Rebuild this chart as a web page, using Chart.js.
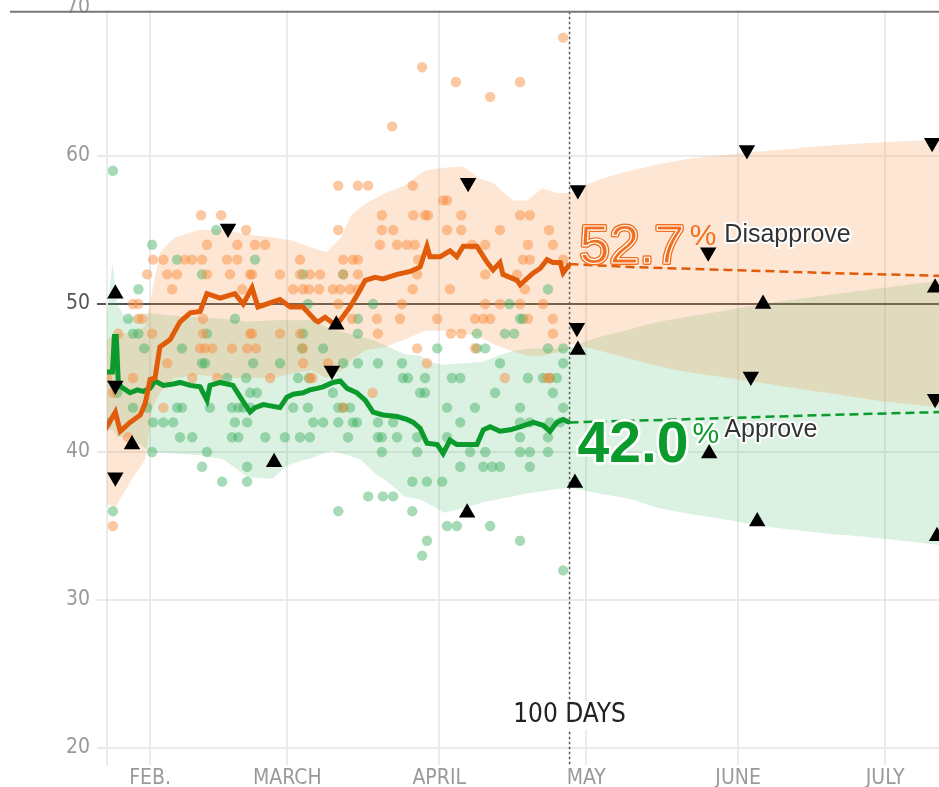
<!DOCTYPE html>
<html>
<head>
<meta charset="utf-8">
<script src="https://cdn.jsdelivr.net/npm/chart.js@4.4.1/dist/chart.umd.min.js"></script>
<style>
  html, body { margin: 0; padding: 0; background: #fff; overflow: hidden; }
  #wrap { position: relative; width: 939px; height: 787px; overflow: hidden; }
  #approvalChart { position: absolute; left: 0; top: -30px; }
</style>
</head>
<body>
<div id="wrap"><canvas id="approvalChart" width="939" height="817"></canvas></div>
<script>
const NARROW = '"Liberation Sans Narrow", "DejaVu Sans Condensed", "Roboto", sans-serif';
const SANS = '"Liberation Sans", Arial, sans-serif';

// x values are days since Jan. 20
const monthDays = [12, 40, 71, 101, 132, 162];
const monthLabels = ['FEB.', 'MARCH', 'APRIL', 'MAY', 'JUNE', 'JULY'];
const yTickValues = [20, 30, 40, 50, 60, 70];
const HUNDRED_DAYS = 97.6;
const HUNDRED_LABEL_Y = 22.2;
const X_MIN = 3.2, X_MAX = 173;
const Y_MIN = 18.85, Y_MAX = 72.57, TOP_EDGE = 69.75;

// individual polls [day, value]
const disapprovePolls = [
  [96.3,68],[67.5,66],[74.4,65],[87.5,65],[81.4,64],[61.4,62],
  [50.4,58],[54.4,58],[56.5,58],[65.6,58],[71.8,57],[72.6,57],
  [22.4,56],[26.5,56],[59.3,56],[65.7,56],[68.1,56],[68.7,56],[75.5,56],[87.5,56],[89.5,56],
  [31.6,55],[50.4,55],[59.3,55],[61.6,55],[72.6,55],[75.5,55],[83.4,55],[93.4,55],
  [23.6,54],[29.8,54],[33.4,54],[35.5,54],[58.9,54],[62.4,54],[64.4,54],[66.0,54],[77.7,54],[80.4,54],[89.1,54],[94.2,54],
  [12.6,53],[14.7,53],[19.1,53],[20.6,53],[22.6,53],[27.7,53],[29.8,53],[42.6,53],[51.4,53],[53.4,53],[54.4,53],[66.7,53],[88.1,53],[89.5,53],[96.3,53],
  [11.4,52],[15.5,52],[17.5,52],[23.6,52],[28.3,52],[32.4,52],[32.8,52],[38.5,52],[42.6,52],[44.6,52],[46.7,52],[51.4,52],[54.4,52],[66.5,52],[80.4,52],[86.9,52],
  [16.5,51],[30.8,51],[41.2,51],[43.2,51],[44.4,51],[46.5,51],[49.3,51],[50.8,51],[52.8,51],[54.4,51],[65.6,51],[73.2,51],[88.5,51],
  [8.5,50],[9.6,50],[50.4,50],[63.4,50],[80.4,50],[83.4,50],[87.5,50],[92.2,50],
  [9.6,49],[10.4,49],[22.8,49],[53.2,49],[58.3,49],[63,49],[70.6,49],[78.3,49],[80,49],[81.4,49],[89.1,49],[94.2,49],
  [5.5,48],[12.4,48],[22.8,48],[32.4,48],[32.8,48],[38.5,48],[42.6,48],[58.5,48],[73.4,48],[75.5,48],[94.2,48],
  [22.2,47],[23.2,47],[24.7,47],[28.7,47],[31.8,47],[33.6,47],[43.2,47],[66.5,47],[78.3,47],
  [15.5,46],[43.2,46],[48.3,46],[68.5,46],
  [3.2,45],[8.5,45],[20.6,45],[25.7,45],[36.5,45],[44.6,45],[45.1,45],[84.4,45],[93,45],[93.6,45],
  [4.4,44],[57.4,44],[14.7,43],[51.4,43],[7.5,41],[4.4,35]
];
const approvePolls = [
  [4.4,59],[25.5,55],[12.4,54],[17.5,53],[33.4,53],[22.6,52],[43.2,52],[51.4,52],
  [9.6,51],[93.2,51],[44.2,50],[57.5,50],[85.3,50],
  [7.5,49],[29.3,49],[54.4,49],[87.5,49],[88.1,49],
  [8.5,48],[9.6,48],[23.6,48],[43.2,48],[54.4,48],[78.7,48],[84.4,48],[86.3,48],
  [10.8,47],[18.5,47],[43,47],[47.3,47],[70.6,47],[78.7,47],[80.4,47],[93.2,47],[96.3,47],
  [22.6,46],[23.2,46],[33,46],[38.5,46],[51.4,46],[54.4,46],[58.5,46],[63.4,46],[83.4,46],[96.3,46],
  [27.7,45],[31.6,45],[42.2,45],[44.4,45],[63.6,45],[64.6,45],[68.1,45],[73.6,45],[75.3,45],[89.1,45],[92.2,45],[93.6,45],[95,45],
  [5.3,44],[32.4,44],[33.8,44],[49.3,44],[67.1,44],[68.1,44],[82.4,44],[94.2,44],
  [8.5,43],[11.4,43],[17.5,43],[18.5,43],[24.2,43],[28.7,43],[30,43],[31,43],[32.4,43],[41.2,43],[44.2,43],[50.4,43],[51.4,43],[52.8,43],[72.6,43],[78.3,43],[87.5,43],[96.3,43],
  [3.2,42],[12.6,42],[14.7,42],[16.7,42],[29.3,42],[31.8,42],[45.3,42],[47.3,42],[50.4,42],[53.4,42],[54.2,42],[58.5,42],[61.6,42],[75.3,42],[87.5,42],[89.5,42],[93.6,42],[95.7,42],
  [18.1,41],[20.6,41],[28.7,41],[30,41],[35.5,41],[39.5,41],[42.6,41],[44.6,41],[52.4,41],[58.5,41],[59.3,41],[62.4,41],[66.5,41],[72.6,41],[87.5,41],[93.2,41],
  [12.4,40],[23.6,40],[59.3,40],[66.5,40],[77.3,40],[80.4,40],[87.5,40],[89.5,40],[93.2,40],
  [22.6,39],[31.8,39],[75.3,39],[80,39],[81.8,39],[83.4,39],[89.5,39],
  [26.7,38],[31.8,38],[65.5,38],[68.5,38],[71.6,38],
  [56.5,37],[59.5,37],[61.6,37],[4.4,36],[50.4,36],[65.5,36],
  [72.6,35],[74.6,35],[81.4,35],[68.5,34],[87.5,34],[67.5,33],[96.3,32]
];

// polling averages [day, value]
const disapproveAvg = [
  [2.8,41.5],[4.9,42.7],[5.9,41.4],[7.9,42.0],[10,42.5],[11,43.3],[12,44.9],[13,45.0],[14,47.1],
  [16.1,47.6],[18.1,48.8],[20.2,49.4],[22.2,49.5],[23.6,50.7],[26.3,50.4],[29.3,50.7],[31,50.0],
  [32.8,51.1],[34,49.8],[38.5,50.3],[40.6,49.8],[43.2,49.8],[45.7,48.9],[46.3,48.8],[47.7,49.1],
  [49.3,48.7],[50.8,48.9],[52.8,49.8],[54.4,50.7],[55.9,51.6],[57.9,51.8],[59.5,51.7],[62.4,52.0],
  [65.1,52.2],[67.1,52.5],[68.5,53.9],[69.1,53.2],[71.2,53.2],[73.2,53.6],[74.6,53.2],[75.9,53.9],
  [78.7,53.9],[80.8,52.8],[82,52.3],[83.4,52.8],[84,52.0],[86.9,51.6],[87.5,51.3],[90.2,52.1],
  [91.6,52.4],[93,53.0],[94.2,52.8],[95.7,52.8],[96.3,52.1],[97.6,52.7]
];
const approveAvg = [
  [2.8,45.4],[4.3,45.4],[4.7,47.8],[5.1,47.8],[5.5,44.7],[6.1,44.4],[7.9,44.0],[9.4,44.2],
  [10.6,44.1],[12,44.3],[13,44.8],[14.7,44.5],[16.7,44.6],[18.1,44.7],[20.2,44.5],[22.2,44.4],
  [23.6,43.5],[24.2,44.5],[26.3,44.7],[28.9,44.5],[31,43.4],[32.4,42.7],[33.4,43.0],[35.1,43.2],
  [38.5,43.0],[39.9,43.7],[41.2,43.9],[43.2,44.0],[44.6,44.2],[46.1,44.3],[47.3,44.4],[49.3,44.7],
  [50.8,44.8],[52.2,44.3],[54.2,44.0],[55.9,43.5],[57.5,42.7],[59.5,42.5],[62.4,42.4],[64.4,42.2],
  [65.7,42.0],[67.1,41.6],[68.5,40.6],[70.6,40.5],[71.8,39.9],[73.2,40.8],[74.6,40.5],[78.7,40.5],
  [80,41.5],[81.4,41.7],[83.4,41.4],[85.5,41.5],[87.5,41.7],[90.2,42.0],[92.2,41.8],[93.6,41.4],
  [95,42.0],[96.3,42.2],[97.6,42.0]
];
const disapproveProjection = [[97.6,52.7],[110,52.5],[130,52.3],[150,52.1],[173.5,51.9]];
const approveProjection = [[97.6,42.0],[120,42.2],[150,42.5],[173.5,42.7]];

// uncertainty bands [day, high, low]
const disapproveBand = [
  [2.8,47.5,36.5],[5,48,36.3],[8,48,38],[11,48.5,39.5],[12.5,51,43],[14,53.5,44],[17,54.5,45],
  [22,55,45.2],[27,55,45],[32,54.7,45],[37,54.5,45],[41,54.3,45.3],[45,53.8,45.5],[48,53.5,45],
  [51,54.5,45.5],[53,56,46.2],[56,56.8,46.9],[60,57.5,47.1],[64,58,47.6],[68,59,48.2],
  [72,59.2,48.2],[76,59.3,48],[79,58.5,47.8],[82,58.2,47.3],[86,57,46.8],[89,57,46.5],
  [92,57.8,46.5],[95,57.5,46.7],[97.6,57.5,47]
];
const disapproveCone = [
  [97.6,57.5,47.3],[102,58.2,47],[110,59,46.3],[120,59.7,45.5],[130,60.1,45],
  [140,60.4,44.5],[150,60.7,44],[160,60.9,43.5],[173.5,61.1,43]
];
const approveBand = [
  [2.8,48,41.5],[4.3,52.8,41.5],[5.3,50,41],[7,49,41],[10,49.3,40.5],[12,49.4,40],[17,49.2,39.9],
  [22,49.1,39.8],[27,49,39.5],[32,48.8,38.3],[37,48.9,38.2],[40,48.9,39.1],[45,48.9,39.6],
  [49,48.3,40.1],[55,47.8,39.5],[58,47.5,38.5],[60,47.2,38.1],[64,46.6,37],[67,46.5,36.8],
  [70,46,36.3],[72,45.9,35.9],[76,46,36.2],[80,46.1,36.6],[83,46.5,36.8],[86,46.8,37],
  [89,47,37.2],[93,47,37.4],[97.6,47,37.6]
];
const approveCone = [
  [97.6,47,37.6],[102,47.6,37.3],[110,48.3,36.8],[116,48.8,36.2],[130,49.6,35.4],
  [137,50,35],[150,50.6,34.5],[157,50.9,34.3],[173.5,51.6,33.7]
];

// black markers [day, value]
const upMarkers = [
  [4.9,50.7],[8.3,40.5],[50.0,48.6],[37.3,39.3],[76.7,35.9],[99.3,46.9],[98.7,37.9],
  [137.1,50.0],[126.1,39.9],[135.9,35.3],[172.2,51.1],[172.6,34.3]
];
const downMarkers = [
  [4.9,44.5],[4.9,38.3],[27.9,55.1],[49.1,45.5],[76.9,58.2],[99.3,57.7],[99.1,48.4],
  [125.9,53.5],[134.6,45.1],[133.8,60.4],[171.6,60.9],[172.2,43.6]
];

const ORANGE = '#e05c0a';
const GREEN = '#0b9a2c';
const ORANGE_BAND = 'rgba(245,140,60,0.22)';
const GREEN_BAND = 'rgba(40,170,80,0.17)';

// keep the plot area where the axes put it (no extra room for marker overflow)
Chart.controllers.line.prototype.getMaxOverflow = () => 0;

const pts = (rows, k = 1) => rows.map(r => ({ x: r[0], y: r[k] }));

const edge = (rows, k, fill, color, tension) => ({
  data: pts(rows, k),
  borderWidth: 0,
  pointRadius: 0,
  fill: fill,
  backgroundColor: color,
  tension: tension,
  order: 10
});

const line = (rows, color, width, dash) => ({
  data: pts(rows),
  borderColor: color,
  borderWidth: width,
  borderDash: dash,
  pointRadius: 0,
  fill: false,
  order: 3
});

const dots = (rows, color) => ({
  data: pts(rows),
  showLine: false,
  pointRadius: 5.2,
  pointHoverRadius: 5.2,
  pointBorderWidth: 0,
  pointBackgroundColor: color,
  order: 5
});

const markers = (rows, rotation) => ({
  data: pts(rows),
  showLine: false,
  pointStyle: 'triangle',
  pointRotation: rotation,
  pointRadius: 9.5,
  pointHoverRadius: 9.5,
  pointBorderWidth: 0,
  pointBackgroundColor: '#000',
  clip: 12,
  order: 1
});

const overlay = {
  id: 'overlay',
  beforeDatasetsDraw(chart) {
    const { ctx, chartArea, scales: { x, y } } = chart;
    const px = x.getPixelForValue(HUNDRED_DAYS);
    ctx.save();
    ctx.strokeStyle = '#555';
    ctx.lineWidth = 1.5;
    ctx.setLineDash([2.5, 2.5]);
    ctx.beginPath();
    ctx.moveTo(px, y.getPixelForValue(TOP_EDGE));
    ctx.lineTo(px, chartArea.bottom);
    ctx.stroke();
    ctx.restore();
  },
  afterDatasetsDraw(chart) {
    const { ctx, scales: { x, y } } = chart;
    const px = x.getPixelForValue(HUNDRED_DAYS);
    ctx.save();

    // 100 days label
    ctx.font = `26px ${NARROW}`;
    const lbl = '100 DAYS';
    const lw = ctx.measureText(lbl).width;
    const ly = y.getPixelForValue(HUNDRED_LABEL_Y);
    ctx.fillStyle = '#fff';
    ctx.fillRect(px - lw / 2 - 3, ly - 14, lw + 6, 28);
    ctx.fillStyle = '#222';
    ctx.textAlign = 'center';
    ctx.textBaseline = 'middle';
    ctx.fillText(lbl, px, ly);

    ctx.textAlign = 'left';
    const numX = px + 10;

    // disapprove value
    const dNow = disapproveAvg[disapproveAvg.length - 1][1];
    const dy = y.getPixelForValue(dNow);
    const dTxt = dNow.toFixed(1);
    ctx.textBaseline = 'alphabetic';
    ctx.font = `54px ${SANS}`;
    ctx.lineJoin = 'round';
    ctx.strokeStyle = '#f07020';
    ctx.lineWidth = 4;
    ctx.strokeText(dTxt, numX, dy - 1);
    ctx.fillStyle = '#f07020';
    ctx.fillText(dTxt, numX, dy - 1);
    ctx.strokeStyle = '#fff';
    ctx.lineWidth = 1.2;
    ctx.strokeText(dTxt, numX, dy - 1);
    const dW = ctx.measureText(dTxt).width;
    ctx.font = `30px ${SANS}`;
    ctx.textBaseline = 'top';
    ctx.fillText('%', numX + dW + 5, dy - 42);
    const wordX = numX + dW + 5 + ctx.measureText('%').width + 8;
    ctx.font = `25px ${SANS}`;
    ctx.textBaseline = 'alphabetic';
    ctx.strokeStyle = '#fff';
    ctx.lineWidth = 4;
    ctx.strokeText('Disapprove', wordX, dy - 22);
    ctx.fillStyle = '#333';
    ctx.fillText('Disapprove', wordX, dy - 22);

    // approve value
    const aNow = approveAvg[approveAvg.length - 1][1];
    const ay = y.getPixelForValue(aNow);
    const aTxt = aNow.toFixed(1);
    ctx.font = `bold 57px ${SANS}`;
    ctx.strokeStyle = '#fff';
    ctx.lineWidth = 5;
    ctx.strokeText(aTxt, numX - 2, ay + 40);
    ctx.fillStyle = GREEN;
    ctx.fillText(aTxt, numX - 2, ay + 40);
    const aW = ctx.measureText(aTxt).width;
    ctx.font = `30px ${SANS}`;
    ctx.textBaseline = 'top';
    ctx.strokeText('%', numX - 2 + aW + 4, ay - 3);
    ctx.fillText('%', numX - 2 + aW + 4, ay - 3);
    ctx.font = `25px ${SANS}`;
    ctx.textBaseline = 'alphabetic';
    ctx.lineWidth = 4;
    ctx.strokeText('Approve', wordX, ay + 15);
    ctx.fillStyle = '#333';
    ctx.fillText('Approve', wordX, ay + 15);
    ctx.restore();
  },
  afterDraw(chart) {
    const { ctx, width, chartArea, scales: { y } } = chart;
    const ty = y.getPixelForValue(TOP_EDGE);
    const gridLeft = chartArea.left - y.options.grid.tickLength - 1;
    ctx.save();
    ctx.fillStyle = '#fff';
    ctx.fillRect(gridLeft, 0, width - gridLeft, ty - 1);
    ctx.strokeStyle = '#777';
    ctx.lineWidth = 2;
    ctx.beginPath();
    ctx.moveTo(10, ty);
    ctx.lineTo(width, ty);
    ctx.stroke();
    ctx.restore();
  }
};

const ctx = document.getElementById('approvalChart').getContext('2d');
new Chart(ctx, {
  type: 'line',
  data: {
    datasets: [
      edge(disapproveBand, 1, 1, ORANGE_BAND, 0),
      edge(disapproveBand, 2, false, ORANGE_BAND, 0),
      edge(disapproveCone, 1, 3, ORANGE_BAND, 0.4),
      edge(disapproveCone, 2, false, ORANGE_BAND, 0.4),
      edge(approveBand, 1, 5, GREEN_BAND, 0),
      edge(approveBand, 2, false, GREEN_BAND, 0),
      edge(approveCone, 1, 7, GREEN_BAND, 0.4),
      edge(approveCone, 2, false, GREEN_BAND, 0.4),
      dots(disapprovePolls, 'rgba(248,140,60,0.48)'),
      dots(approvePolls, 'rgba(60,175,95,0.45)'),
      line(disapproveAvg, ORANGE, 5, []),
      line(approveAvg, GREEN, 5, []),
      line(disapproveProjection, ORANGE, 2.5, [9, 5]),
      line(approveProjection, GREEN, 2.5, [9, 5]),
      markers(upMarkers, 0),
      markers(downMarkers, 180)
    ]
  },
  options: {
    responsive: false,
    animation: false,
    devicePixelRatio: 1,
    layout: { padding: 0 },
    plugins: { legend: { display: false }, tooltip: { enabled: false } },
    scales: {
      x: {
        type: 'linear',
        min: X_MIN,
        max: X_MAX,
        afterBuildTicks: s => { s.ticks = monthDays.map(v => ({ value: v })); },
        afterFit: s => { s.height = 22; s.paddingLeft = 0; s.paddingRight = 0; },
        grid: { color: '#ebebeb', lineWidth: 2, drawTicks: false },
        border: { display: false },
        ticks: {
          autoSkip: false,
          maxRotation: 0,
          padding: 1,
          color: '#9a9a9a',
          font: { family: NARROW, size: 21 },
          callback: (v, i) => monthLabels[i]
        }
      },
      y: {
        type: 'linear',
        min: Y_MIN,
        max: Y_MAX,
        afterBuildTicks: s => { s.ticks = yTickValues.map(v => ({ value: v })); },
        afterFit: s => { s.width = 107; s.paddingTop = 0; s.paddingBottom = 0; },
        grid: {
          color: c => (c.tick && c.tick.value === 50 ? '#555' : '#ebebeb'),
          tickColor: c => (c.tick && c.tick.value === 50 ? '#555' : '#ebebeb'),
          lineWidth: 2,
          tickLength: 10
        },
        border: { display: true, color: '#ebebeb', width: 2 },
        ticks: {
          padding: 7,
          color: c => (c.tick && c.tick.value === 50 ? '#555' : '#999'),
          font: { family: NARROW, size: 21 }
        }
      }
    }
  },
  plugins: [overlay]
});
</script>
</body>
</html>
